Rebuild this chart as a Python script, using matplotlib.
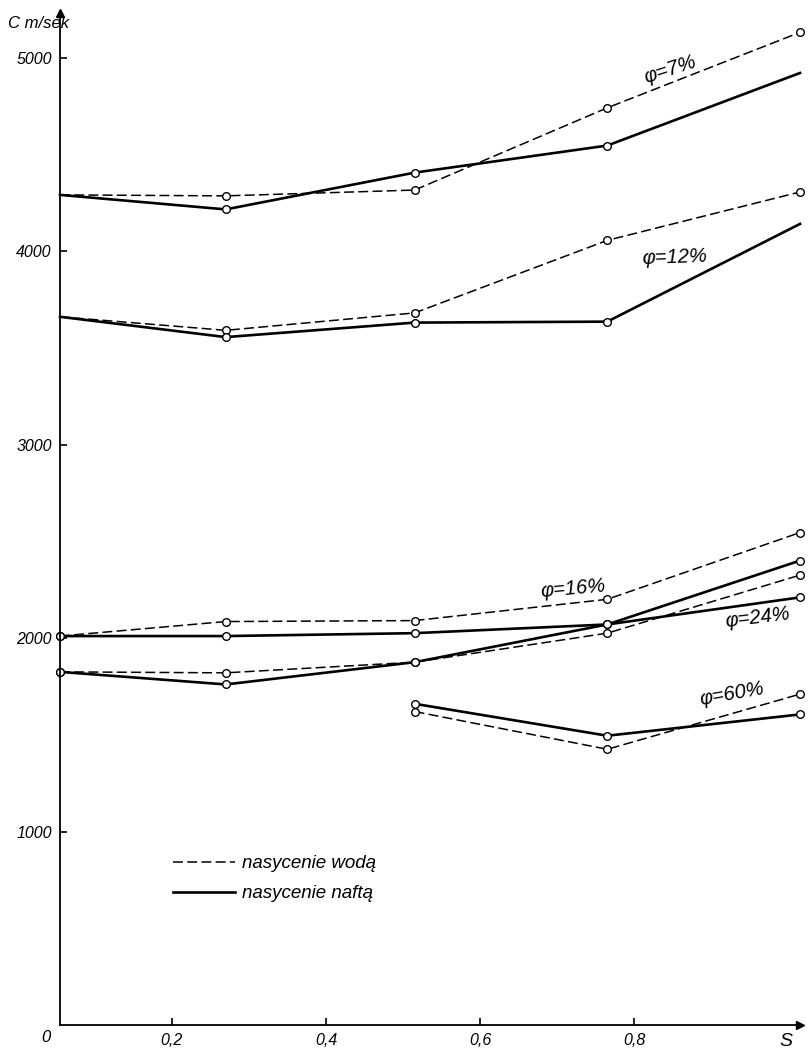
import matplotlib
matplotlib.use("Agg")
import matplotlib.pyplot as plt
from matplotlib.lines import Line2D

plt.rcParams['font.family'] = ['Liberation Sans Narrow', 'Liberation Sans', 'DejaVu Sans']
plt.rcParams['font.style'] = 'italic'

# saturation S (first point sits on the C axis)
s = [0.055, 0.27, 0.515, 0.765, 1.015]
s60 = [0.515, 0.765, 1.015]

# velocity C, m/sek
water_7 = [4290, 4285, 4315, 4740, 5130]
oil_7 = [4290, 4215, 4405, 4545, 4920]
water_12 = [3660, 3590, 3680, 4055, 4305]
oil_12 = [3660, 3555, 3630, 3635, 4140]
water_16 = [2010, 2085, 2090, 2200, 2545]
oil_16 = [2010, 2010, 2025, 2070, 2210]
water_24 = [1825, 1820, 1875, 2025, 2325]
oil_24 = [1825, 1760, 1875, 2070, 2400]
water_60 = [1620, 1425, 1710]
oil_60 = [1660, 1495, 1605]

x_ticks = [0.2, 0.4, 0.6, 0.8]
x_labels = ["0,2", "0,4", "0,6", "0,8"]
y_ticks = [1000, 2000, 3000, 4000, 5000]

W, H = 810, 1051
fig = plt.figure(figsize=(W / 100, H / 100), dpi=100)
ax = fig.add_axes([60 / W, 1 - 1025 / H, 740 / W, 1012 / H])
ax.set_xlim(0.055, 1.015)
ax.set_ylim(0, 5230)

DASH = (6.5, 2.8)
mk = dict(marker='o', markersize=5.5, markerfacecolor='white',
          markeredgecolor='black', markeredgewidth=1.0, clip_on=False)


def water(x, y, every):
    ax.plot(x, y, color='black', lw=1.1, dashes=DASH, markevery=every, **mk)


def oil(x, y, every):
    ax.plot(x, y, color='black', lw=1.9, markevery=every, **mk)


water(s, water_7, [1, 2, 3, 4])
oil(s, oil_7, [1, 2, 3])
water(s, water_12, [1, 2, 3, 4])
oil(s, oil_12, [1, 2, 3])
water(s, water_16, None)
oil(s, oil_16, None)
water(s, water_24, None)
oil(s, oil_24, None)
water(s60, water_60, None)
oil(s60, oil_60, None)

# axes look
for side in ('top', 'right'):
    ax.spines[side].set_visible(False)
for side in ('left', 'bottom'):
    ax.spines[side].set_linewidth(1.3)
ax.set_xticks(x_ticks)
ax.set_xticklabels(x_labels)
ax.set_yticks(y_ticks)
ax.set_yticklabels([str(v) for v in y_ticks])
ax.tick_params(direction='in', length=5, width=1.2, labelsize=11.5, pad=6)
ax.plot([0], [1], marker='^', ms=6, color='black', transform=ax.transAxes, clip_on=False)
ax.plot([1], [0], marker='>', ms=6, color='black', transform=ax.transAxes, clip_on=False)

fig.text(8 / W, 1 - 24 / H, "C m/sek", ha='left', va='center', fontsize=12)
fig.text(46 / W, 1 - 1038 / H, "0", ha='center', va='center', fontsize=12)
fig.text(786 / W, 1 - 1041 / H, "S", ha='center', va='center', fontsize=14)

# curve labels
lab = dict(fontsize=14.5, ha='center', va='center')
fig.text(670 / W, 1 - 70 / H, "φ=7%", rotation=18, **lab)
fig.text(675 / W, 1 - 257 / H, "φ=12%", rotation=2, **lab)
fig.text(573 / W, 1 - 589 / H, "φ=16%", rotation=5, **lab)
fig.text(758 / W, 1 - 618 / H, "φ=24%", rotation=7, **lab)
fig.text(732 / W, 1 - 694 / H, "φ=60%", rotation=10, **lab)

handles = [Line2D([], [], color='black', lw=1.1, dashes=DASH),
           Line2D([], [], color='black', lw=1.9)]
ax.legend(handles, ["nasycenie wodą", "nasycenie naftą"],
          loc='upper left', bbox_to_anchor=(173 / W, 1 - 855 / H),
          bbox_transform=fig.transFigure, frameon=False, borderpad=0,
          borderaxespad=0, handlelength=3.3, handletextpad=0.4,
          labelspacing=0.7, prop=dict(family=['Liberation Sans', 'DejaVu Sans'],
                                      style='italic', size=13.5))

fig.savefig("out.png", dpi=100)
